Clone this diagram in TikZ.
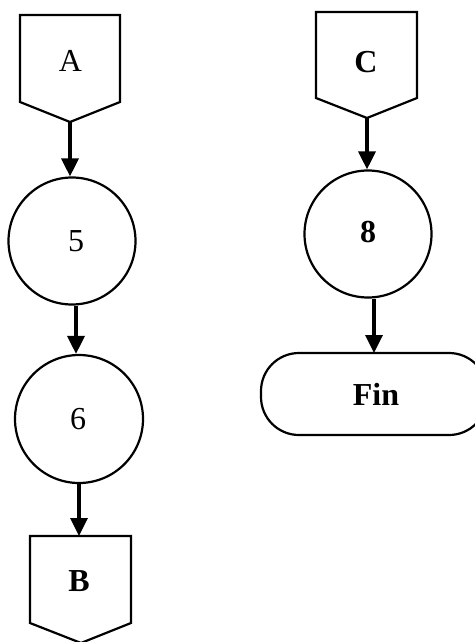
\documentclass[tikz,border=0pt]{standalone}
\usepackage{fontspec}
\setmainfont{Liberation Serif}
\usetikzlibrary{arrows.meta}
\newcommand{\lblfont}{\fontsize{32}{36}\selectfont}
\begin{document}
\begin{tikzpicture}[x=1pt,y=-1pt,
  outline/.style={draw=black,line width=2.2pt,line join=miter},
  lbl/.style={inner sep=0pt,font=\lblfont},
  blbl/.style={inner sep=0pt,font=\lblfont\bfseries},
  circ/.style={outline,circle,inner sep=0pt,minimum size=#1},
  flow/.style={line width=3.4pt,-{Triangle[width=17pt,length=18pt]}}]
\useasboundingbox (0,0) rectangle (474,642);
\fill[white] (0,0) rectangle (474,642);
% A off-page connector
\draw[outline] (20,15) -- (120,15) -- (120,102) -- (70,122) -- (20,102) -- cycle;
\coordinate (Atip) at (70,122);
\node[lbl] (A) at (70.5,61) {A};
% circle 5
\node[circ=127pt] (c5) at (72,241) {};
\node[lbl] (t5) at (76,241) {5};
% circle 6
\node[circ=128pt] (c6) at (79,419) {};
\node[lbl] (t6) at (78,419) {6};
% B off-page connector
\draw[outline] (30,536) -- (131,536) -- (131,623) -- (81,643) -- (30,623) -- cycle;
\coordinate (Btop) at (80,536);
\node[blbl] (B) at (79,581) {B};
% C off-page connector
\draw[outline] (316,12) -- (417,12) -- (417,98) -- (367,118) -- (316,98) -- cycle;
\coordinate (Ctip) at (367,118);
\node[blbl] (C) at (366,62) {C};
% circle 8
\node[circ=127pt] (c8) at (368,234) {};
\node[blbl] (t8) at (368,232) {8};
% Fin terminator
\draw[outline,rounded corners=38pt] (261,353) rectangle (487,435);
\coordinate (Fintop) at (374,353);
\node[blbl] (Fin) at (376,394) {Fin};
% connectors
\draw[flow] (Atip) -- (Atip |- c5.north);
\coordinate (s5) at ([xshift=4pt]c5.south);
\draw[flow] (s5) -- (s5 |- c6.north);
\draw[flow] (c6.south) -- (c6.south |- Btop);
\draw[flow] (Ctip) -- (Ctip |- c8.north);
\coordinate (s8) at ([xshift=6pt]c8.south);
\draw[flow] (s8) -- (s8 |- Fintop);
\end{tikzpicture}
\end{document}
